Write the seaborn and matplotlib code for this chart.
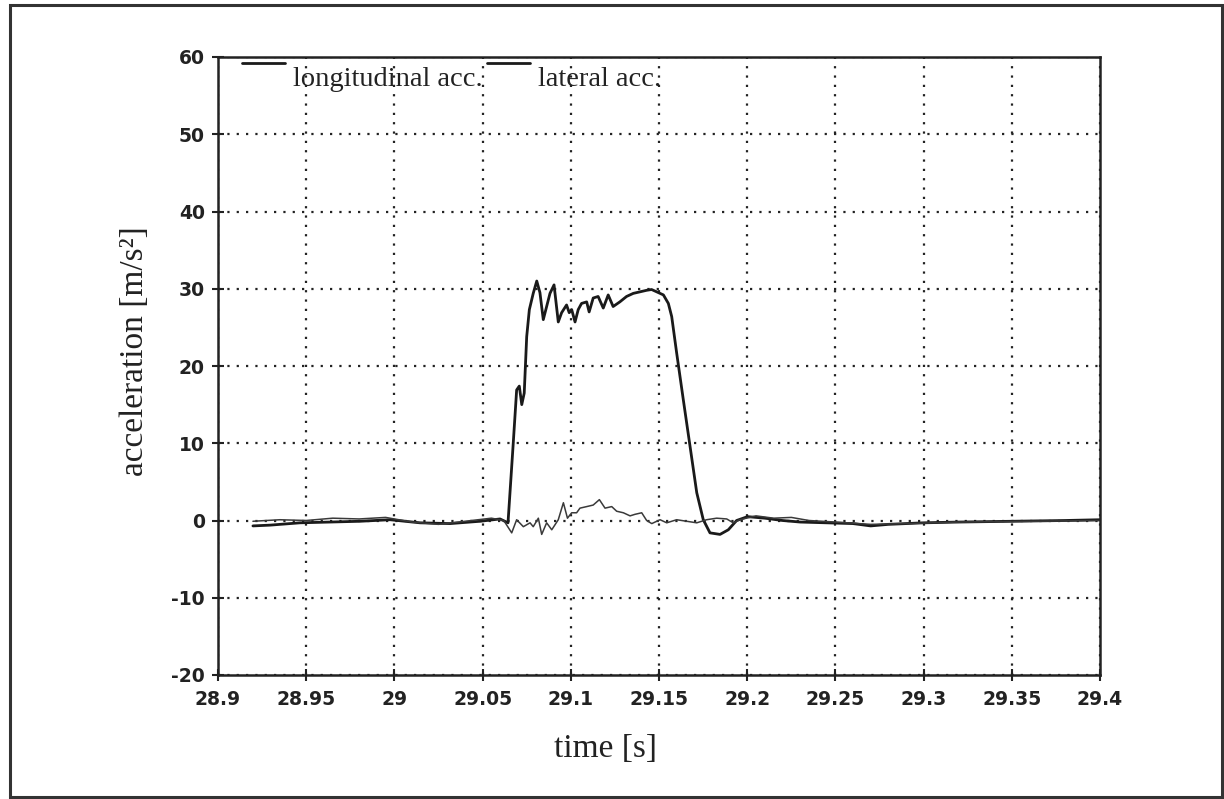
import matplotlib
matplotlib.use("Agg")
import matplotlib.pyplot as plt
import seaborn as sns
import pandas as pd
import numpy as np
from matplotlib.patches import Rectangle
from matplotlib.legend_handler import HandlerLine2D

# ---- data ----
time_long = [28.9198, 28.9295, 28.9465, 28.9635, 28.9805, 28.9975, 29.0145, 29.0315,
             29.0485, 29.0599, 29.0644, 29.0674, 29.0693, 29.0708, 29.0722, 29.0736,
             29.0750, 29.0765, 29.0787, 29.0807, 29.0825, 29.0844, 29.0863, 29.0882,
             29.0905, 29.0929, 29.0948, 29.0976, 29.0991, 29.1005, 29.1024, 29.1042,
             29.1061, 29.1090, 29.1104, 29.1127, 29.1155, 29.1184, 29.1212, 29.1240,
             29.1278, 29.1316, 29.1354, 29.1392, 29.1430, 29.1458, 29.1487, 29.1525,
             29.1553, 29.1572, 29.1600, 29.1638, 29.1676, 29.1714, 29.1751, 29.1789,
             29.1846, 29.1893, 29.1940, 29.2002, 29.2100, 29.2200, 29.2300, 29.2450,
             29.2600, 29.2700, 29.2800, 29.3000, 29.3200, 29.3500, 29.3800, 29.4000]
acc_long = [-0.7, -0.6, -0.3, -0.2, -0.1, 0.1, -0.3, -0.4,
            -0.1, 0.2, -0.3, 10.1, 16.9, 17.4, 15.0, 16.5,
            23.8, 27.3, 29.4, 31.0, 29.5, 26.0, 27.7, 29.4,
            30.5, 25.7, 26.9, 27.9, 26.9, 27.3, 25.7, 27.3,
            28.1, 28.3, 27.0, 28.8, 29.0, 27.5, 29.2, 27.7,
            28.3, 29.0, 29.4, 29.6, 29.8, 29.9, 29.6, 29.2,
            28.1, 26.4, 21.7, 15.6, 9.6, 3.6, 0.1, -1.6,
            -1.8, -1.2, 0.0, 0.5, 0.3, 0.0, -0.2, -0.3,
            -0.4, -0.7, -0.5, -0.3, -0.2, -0.1, 0.0, 0.1]

time_lat = [28.9198, 28.9350, 28.9500, 28.9650, 28.9800, 28.9950, 29.0100, 29.0250,
            29.0400, 29.0550, 29.0620, 29.0665, 29.0693, 29.0731, 29.0769, 29.0787,
            29.0816, 29.0835, 29.0863, 29.0892, 29.0929, 29.0958, 29.0981, 29.1005,
            29.1033, 29.1052, 29.1090, 29.1127, 29.1162, 29.1194, 29.1232, 29.1260,
            29.1298, 29.1336, 29.1364, 29.1402, 29.1430, 29.1459, 29.1506, 29.1544,
            29.1600, 29.1657, 29.1714, 29.1770, 29.1827, 29.1884, 29.1921, 29.1959,
            29.2050, 29.2150, 29.2250, 29.2350, 29.2500, 29.2700, 29.2900, 29.3200,
            29.3600, 29.4000]
acc_lat = [-0.1, 0.1, 0.0, 0.3, 0.2, 0.4, -0.2, -0.5,
           -0.1, 0.3, 0.0, -1.6, 0.1, -0.8, -0.3, -0.8,
           0.3, -1.8, -0.3, -1.2, 0.1, 2.3, 0.3, 1.0,
           1.0, 1.6, 1.8, 2.0, 2.7, 1.6, 1.8, 1.2,
           1.0, 0.6, 0.8, 1.0, 0.0, -0.4, 0.1, -0.3,
           0.1, -0.1, -0.3, 0.1, 0.3, 0.2, -0.3, 0.1,
           0.6, 0.3, 0.4, 0.0, -0.2, -0.5, -0.4, -0.2,
           -0.1, 0.0]

series_names = ["longitudinal acc.", "lateral acc."]
x_ticks = [28.9, 28.95, 29.0, 29.05, 29.1, 29.15, 29.2, 29.25, 29.3, 29.35, 29.4]
x_tick_labels = ["28.9", "28.95", "29", "29.05", "29.1", "29.15", "29.2", "29.25",
                 "29.3", "29.35", "29.4"]
y_ticks = [-20, -10, 0, 10, 20, 30, 40, 50, 60]
y_tick_labels = ["-20", "-10", "0", "10", "20", "30", "40", "50", "60"]

df_long = pd.DataFrame({"time": time_long, "acc": acc_long, "series": series_names[0]})
df_lat = pd.DataFrame({"time": time_lat, "acc": acc_lat, "series": series_names[1]})

sns.set_style("white")
plt.rcParams["font.family"] = ["DejaVu Sans"]

fig = plt.figure(figsize=(12.24, 7.99), dpi=100)
ax = fig.add_axes([218 / 1224, 1 - 675 / 799, (1100 - 218) / 1224, (675 - 57) / 799])

sns.lineplot(data=df_long, x="time", y="acc", ax=ax, color="#1a1a1a", lw=2.0,
             label=series_names[0], sort=False)
sns.lineplot(data=df_lat, x="time", y="acc", ax=ax, color="#3a3a3a", lw=1.1,
             label=series_names[1], sort=False)

ax.set_xlim(28.9, 29.4)
ax.set_ylim(-20, 60)
ax.set_xticks(x_ticks)
ax.set_xticklabels(x_tick_labels)
ax.set_yticks(y_ticks)
ax.set_yticklabels(y_tick_labels)
for lab in ax.get_xticklabels() + ax.get_yticklabels():
    lab.set_fontweight("bold")
    lab.set_fontsize(13.5)
    lab.set_color("#222222")
ax.tick_params(axis="both", direction="inout", length=9, width=1.5, color="#222222",
               bottom=True, left=True)
ax.tick_params(axis="x", pad=6)
ax.tick_params(axis="y", pad=5)

ax.grid(True, color="#222222", linestyle=(0, (1, 3.2)), linewidth=1.6)
for s in ax.spines.values():
    s.set_visible(True)
    s.set_color("#222222")
    s.set_linewidth(1.8)

ax.set_xlabel("time [s]", family="Liberation Serif", fontsize=24, color="#222222")
ax.set_ylabel("acceleration [m/s²]", family="Liberation Serif", fontsize=24, color="#222222")
ax.xaxis.set_label_coords((605 - 218) / 882, (675 - 733) / 618)
ax.yaxis.set_label_coords((150 - 218) / 882, (675 - 351) / 618)


class TopLineHandler(HandlerLine2D):
    def create_artists(self, legend, orig_handle, xdescent, ydescent, width, height,
                       fontsize, trans):
        arts = super().create_artists(legend, orig_handle, xdescent, ydescent, width,
                                      height, fontsize, trans)
        for a in arts:
            yd = np.asarray(a.get_ydata(), dtype=float)
            a.set_ydata(np.full_like(yd, height + 0.12 * fontsize - ydescent))
        return arts


leg = ax.legend(loc="upper left", bbox_to_anchor=((242 - 218) / 882, 1 - 9 / 618), ncol=2,
                frameon=False, prop={"family": "Liberation Serif", "size": 20.5},
                handlelength=1.5, handletextpad=0.3, columnspacing=0.15,
                borderpad=0.0, borderaxespad=0.0,
                handler_map={plt.Line2D: TopLineHandler()})
for t in leg.get_texts():
    t.set_color("#222222")
for h in leg.get_lines():
    h.set_color("#1a1a1a")
    h.set_linewidth(2.0)

fig.patches.append(Rectangle((10 / 1224, 2 / 799), (1222 - 10) / 1224, (794 - 2) / 799,
                             transform=fig.transFigure, fill=False,
                             edgecolor="#333333", linewidth=2.2))

fig.savefig("out.png", dpi=100, facecolor="white")
